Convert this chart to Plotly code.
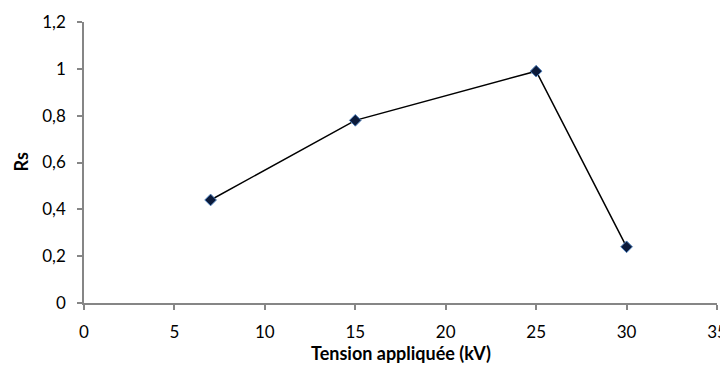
import plotly.graph_objects as go

tension_kv = [7, 15, 25, 30]
rs_values = [0.44, 0.78, 0.99, 0.24]

x_tickvals = [0, 5, 10, 15, 20, 25, 30, 35]
y_tickvals = [0, 0.2, 0.4, 0.6, 0.8, 1.0, 1.2]
y_ticktext = ["0", "0,2", "0,4", "0,6", "0,8", "1", "1,2"]

FONT = "Lato"

fig = go.Figure()
fig.add_trace(go.Scatter(
    x=tension_kv, y=rs_values, mode="lines+markers",
    line=dict(color="black", width=1.5),
    marker=dict(symbol="diamond", size=9, color="#0b1a3a",
                line=dict(color="#4f81bd", width=1)),
    showlegend=False,
))

axis_common = dict(
    showgrid=False, zeroline=False, showline=True, linecolor="#868686",
    linewidth=1.5, ticks="outside", ticklen=5, tickcolor="#868686",
    tickwidth=1.5, tickfont=dict(family=FONT, size=17, color="black"),
    automargin=False,
)

fig.update_layout(
    width=720, height=357,
    margin=dict(l=76, r=11, t=14, b=62),
    paper_bgcolor="white", plot_bgcolor="white",
    xaxis=dict(range=[0, 35], tickvals=x_tickvals, ticklabelstandoff=8,
               **axis_common),
    yaxis=dict(range=[0, 1.2], tickvals=y_tickvals, ticktext=y_ticktext,
               ticklabelstandoff=8, **axis_common),
)

fig.add_annotation(text="<b>Tension appliquée (kV)</b>", xref="paper", yref="paper",
                   x=0.5, y=0, yshift=-50, xanchor="center", yanchor="middle",
                   showarrow=False, font=dict(family=FONT, size=18, color="black"))
fig.add_annotation(text="<b>Rs</b>", xref="paper", yref="paper",
                   x=0, xshift=-64, y=0.5, xanchor="center", yanchor="middle",
                   textangle=-90, showarrow=False,
                   font=dict(family=FONT, size=18, color="black"))

fig.write_html("out.html")
